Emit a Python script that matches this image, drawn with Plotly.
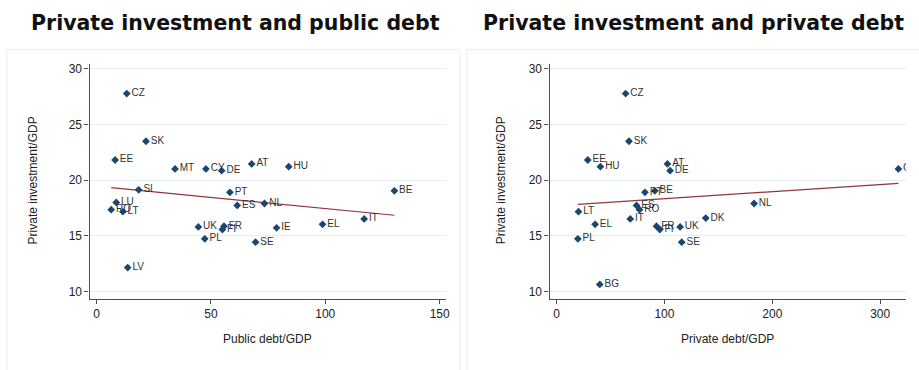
import numpy as np
import plotly.graph_objects as go

# Private investment vs public debt (% of GDP)
pub_countries = ["CZ", "SK", "EE", "MT", "CY", "DE", "AT", "HU", "SI", "PT", "BE", "LU", "RO",
                 "LT", "ES", "NL", "UK", "FR", "FI", "IT", "EL", "IE", "PL", "SE", "LV"]
pub_debt = [13.2, 21.6, 8.1, 34.3, 47.8, 54.7, 67.8, 84.0, 18.4, 58.3, 130.2, 8.6, 6.4,
            11.5, 61.5, 73.4, 44.5, 55.7, 55.0, 117.0, 98.8, 78.7, 47.3, 69.5, 13.6]
pub_inv = [27.75, 23.48, 21.8, 21.0, 21.0, 20.84, 21.45, 21.2, 19.13, 18.9, 19.04, 18.0, 17.35,
           17.17, 17.73, 17.9, 15.8, 15.87, 15.57, 16.52, 16.04, 15.72, 14.74, 14.44, 12.16]

# Private investment vs private debt (% of GDP)
priv_countries = ["CZ", "SK", "EE", "HU", "AT", "DE", "PT", "BE", "CY", "LT", "EL",
                  "PL", "BG", "ES", "RO", "IT", "FR", "FI", "UK", "SE", "DK", "NL"]
priv_debt = [64.0, 67.1, 28.9, 40.6, 102.8, 105.2, 81.9, 91.1, 316.9, 20.3, 35.7,
             19.7, 40.0, 74.1, 76.9, 68.3, 92.6, 95.7, 114.5, 116.0, 138.3, 183.1]
priv_inv = [27.75, 23.48, 21.8, 21.2, 21.45, 20.84, 18.9, 19.04, 21.0, 17.17, 16.04,
            14.74, 10.65, 17.73, 17.35, 16.52, 15.87, 15.57, 15.8, 14.44, 16.6, 17.9]

y_ticks = [10, 15, 20, 25, 30]
pub_ticks = [0, 50, 100, 150]
priv_ticks = [0, 100, 200, 300]

W, H = 919, 370
NAVY = "#1a476f"
MAROON = "#90353b"
AXIS = "#4d4d4d"
GRID = "#e6eef1"
FONT = "Liberation Sans, Arial, sans-serif"


def px_x(p):
    return p / W


def px_y(p):
    return 1 - p / H


def fit_line(x, y):
    x = np.asarray(x, float)
    y = np.asarray(y, float)
    b, a = np.polyfit(x, y, 1)
    xs = np.array([x.min(), x.max()])
    return xs, a + b * xs


fig = go.Figure()

panels = [
    (pub_debt, pub_inv, pub_countries, "x", "y"),
    (priv_debt, priv_inv, priv_countries, "x2", "y2"),
]
for xv, yv, names, xa, ya in panels:
    fx, fy = fit_line(xv, yv)
    fig.add_trace(go.Scatter(
        x=fx, y=fy, mode="lines", xaxis=xa, yaxis=ya,
        line=dict(color=MAROON, width=1.2), showlegend=False, hoverinfo="skip"))
    fig.add_trace(go.Scatter(
        x=xv, y=yv, text=names, mode="markers+text", textposition="middle right",
        xaxis=xa, yaxis=ya,
        marker=dict(symbol="diamond", size=6, color=NAVY, line=dict(width=0)),
        textfont=dict(family=FONT, size=10, color="#333333"),
        showlegend=False))

common_x = dict(ticks="outside", ticklen=4, tickcolor=AXIS, tickwidth=1,
                showline=True, linecolor=AXIS, linewidth=1.3, showgrid=False,
                zeroline=False, tickfont=dict(family=FONT, size=12, color="#222222"))
common_y = dict(ticks="outside", ticklen=4, tickcolor=AXIS, tickwidth=1,
                showline=True, linecolor=AXIS, linewidth=1.3, showgrid=True,
                gridcolor=GRID, gridwidth=1, zeroline=False, tickvals=y_ticks,
                range=[9.38, 30.36], domain=[px_y(298), px_y(62)],
                tickfont=dict(family=FONT, size=12, color="#222222"))

fig.update_layout(
    width=W, height=H, margin=dict(l=0, r=0, t=0, b=0),
    paper_bgcolor="white", plot_bgcolor="white",
    xaxis=dict(domain=[px_x(90), px_x(448)], range=[-3.05, 152.8], tickvals=pub_ticks,
               anchor="y", **common_x),
    yaxis=dict(anchor="x", **common_y),
    xaxis2=dict(domain=[px_x(552), px_x(910)], range=[-6.5, 324], tickvals=priv_ticks,
                anchor="y2", **common_x),
    yaxis2=dict(anchor="x2", **common_y),
)

# faint panel frames
for x0, x1 in [(7, 462), (469, 930)]:
    fig.add_shape(type="rect", xref="paper", yref="paper",
                  x0=px_x(x0), x1=px_x(x1), y0=-0.05, y1=px_y(47),
                  line=dict(color="#e8eef0", width=1), fillcolor="rgba(0,0,0,0)")

TITLE_FONT = dict(family="DejaVu Sans", size=20.5, color="#111111")
LABEL_FONT = dict(family=FONT, size=12, color="#222222")
annos = [
    ("Private investment and public debt", 237, 20, 0, TITLE_FONT, True),
    ("Private investment and private debt", 697, 20, 0, TITLE_FONT, True),
    ("Public debt/GDP", 269, 339, 0, LABEL_FONT, False),
    ("Private debt/GDP", 731, 339, 0, LABEL_FONT, False),
    ("Private investment/GDP", 33, 179, -90, LABEL_FONT, False),
    ("Private investment/GDP", 503, 179, -90, LABEL_FONT, False),
]
for txt, x, y, ang, font, bold in annos:
    fig.add_annotation(text=f"<b>{txt}</b>" if bold else txt, x=px_x(x), y=px_y(y),
                       xref="paper", yref="paper", showarrow=False, textangle=ang,
                       xanchor="center", yanchor="middle", font=font)

fig.write_html("out.html")
